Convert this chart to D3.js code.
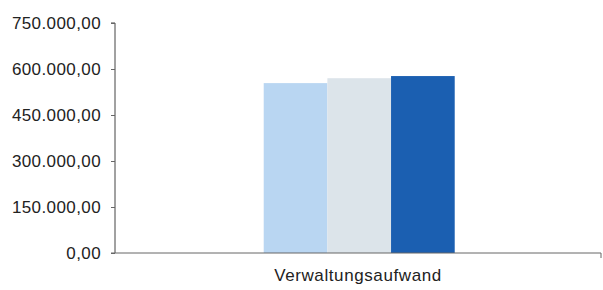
<!DOCTYPE html>
<html>
<head>
<meta charset="utf-8">
<script src="https://cdn.jsdelivr.net/npm/d3@7"></script>
<style>
  body { margin: 0; background: #fff; }
  svg text { font-family: "Liberation Sans", Arial, sans-serif; fill: #222; }
</style>
</head>
<body>
<svg id="chart" width="603" height="290"></svg>
<script>
const categories = ["Verwaltungsaufwand"];
const seriesNames = ["A", "B", "C"];
const seriesValues = [554000, 570000, 577000];
const colors = ["#b9d6f2", "#dce4ea", "#1b5fb1"];
const yTicks = [0, 150000, 300000, 450000, 600000, 750000];

const svg = d3.select("#chart");
const mLeft = 115, mRight = 601, mTop = 23, mBottom = 253;

const fmt = v => d3.format(",.2f")(v).replace(/,/g, "#").replace(".", ",").replace(/#/g, ".");

const y = d3.scaleLinear().domain([0, 750000]).range([mBottom, mTop]);
const x = d3.scaleBand().domain(categories).range([mLeft, mRight]);
const inner = d3.scaleBand().domain(seriesNames)
  .range([x.bandwidth() * 0.306, x.bandwidth() * 0.699]);

// bars
categories.forEach(c => {
  svg.append("g")
    .selectAll("rect")
    .data(seriesValues)
    .join("rect")
    .attr("x", (d, i) => x(c) + inner(seriesNames[i]))
    .attr("y", d => y(d))
    .attr("width", inner.bandwidth())
    .attr("height", d => mBottom - y(d))
    .attr("fill", (d, i) => colors[i]);
});

// y axis
const ya = svg.append("g")
  .attr("transform", `translate(${mLeft},0)`)
  .call(d3.axisLeft(y).tickValues(yTicks).tickFormat(fmt).tickSize(4).tickPadding(10));
ya.select(".domain").attr("stroke", "#444").attr("d", `M-4,${mTop}H0V${mBottom}`);
ya.selectAll(".tick line").attr("stroke", "#666");
ya.selectAll(".tick text").attr("font-size", 17).attr("letter-spacing", 0.4).attr("fill", "#222");

// x axis
const xa = svg.append("g")
  .attr("transform", `translate(0,${mBottom})`)
  .call(d3.axisBottom(x).tickSize(0).tickPadding(16));
xa.select(".domain").attr("stroke", "#666").attr("d", `M${mLeft - 4},0H${mRight}V5`);
xa.selectAll(".tick text").attr("font-size", 17).attr("letter-spacing", 0.6).attr("fill", "#222");
</script>
</body>
</html>
